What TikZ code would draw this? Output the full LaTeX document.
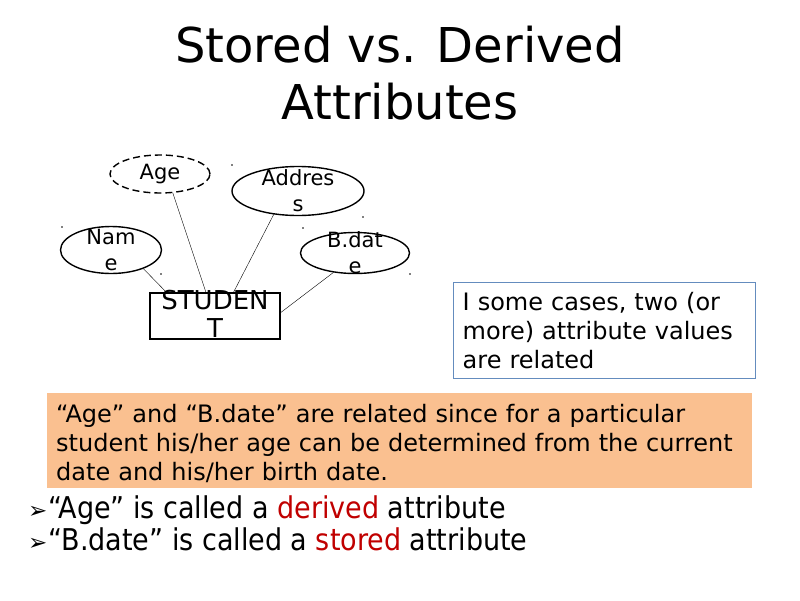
\documentclass[tikz,border=0pt]{standalone}
\usepackage{fontspec}
\setmainfont{DejaVu Sans}
\newfontfamily\narrowfont{DejaVu Sans Condensed}
\usetikzlibrary{shapes,positioning}
\definecolor{noteorange}{RGB}{250,192,144}
\definecolor{boxblue}{RGB}{100,140,190}
\definecolor{keyred}{RGB}{192,0,0}
\tikzset{attr/.style={draw,ellipse,line width=1.4pt,inner sep=0pt,font=\fontsize{21}{26}\selectfont,align=center}}
\tikzset{textbox/.style={anchor=north west,inner xsep=9pt,inner ysep=4pt,align=left,font=\fontsize{24}{29}\selectfont}}
\begin{document}
\begin{tikzpicture}[x=1pt,y=-1pt]
        \useasboundingbox (0,0) rectangle (800,600);
        \node (T) at (400,26) [anchor=north,inner sep=0pt,align=center,font=\fontsize{48}{57}\selectfont] {Stored vs. Derived\\Attributes};
        \node (Age) at (160,174) [attr,dash pattern=on 7pt off 4pt,minimum width=100pt,minimum height=38pt] {};
        \node at (Age.center) [font=\fontsize{21}{26}\selectfont] {Age};
        \node (Addr) at (298,191) [attr,minimum width=132pt,minimum height=49pt,label={[align=center,font=\fontsize{21}{26}\selectfont]center:Addres\\s}] {};
        \node (Name) at (111,250) [attr,minimum width=101pt,minimum height=47pt,label={[align=center,font=\fontsize{21}{26}\selectfont]center:Nam\\e}] {};
        \node (Bdate) at (355,253) [attr,minimum width=109pt,minimum height=41pt,label={[align=center,font=\fontsize{21}{26}\selectfont]center:B.dat\\e}] {};
        \node (Stu) at (215,316) [draw,line width=1.4pt,minimum width=130pt,minimum height=46pt,label={[align=center,yshift=2pt,font=\fontsize{26}{28}\selectfont]center:STUDEN\\T}] {};
        \draw (Name.-30) -- (Stu.154);
        \draw (Age.-56) -- (Stu.111);
        \draw (Addr.-136) -- (Stu.52);
        \draw (Bdate.-138) -- (Stu.3);
        \foreach \p in {(232,165),(62,227),(161,274),(303,228),(363,217),(410,274)}
            \fill \p circle (0.9);
        \node (Rel) at (453,282) [textbox,draw=boxblue,line width=1.4pt,text width=284pt,minimum height=96pt] {I some cases, two (or\\more) attribute values\\are related};
        \node (Note) at (47,393) [textbox,fill=noteorange,text width=687pt,minimum height=95pt] {\rule{0pt}{24pt}“Age” and “B.date” are related since for a particular\\student his/her age can be determined from the current\\date and his/her birth date.};
        \node (D) at (28,518) [anchor=base west,inner sep=0pt,font=\narrowfont\fontsize{30}{33}\selectfont] {{\normalfont\fontsize{23}{23}\selectfont ➢}\kern1pt“Age” is called a \textcolor{keyred}{derived} attribute};
        \node (S) at (28,550) [anchor=base west,inner sep=0pt,font=\narrowfont\fontsize{30}{33}\selectfont] {{\normalfont\fontsize{23}{23}\selectfont ➢}\kern1pt“B.date” is called a \textcolor{keyred}{stored} attribute};
\end{tikzpicture}
\end{document}
